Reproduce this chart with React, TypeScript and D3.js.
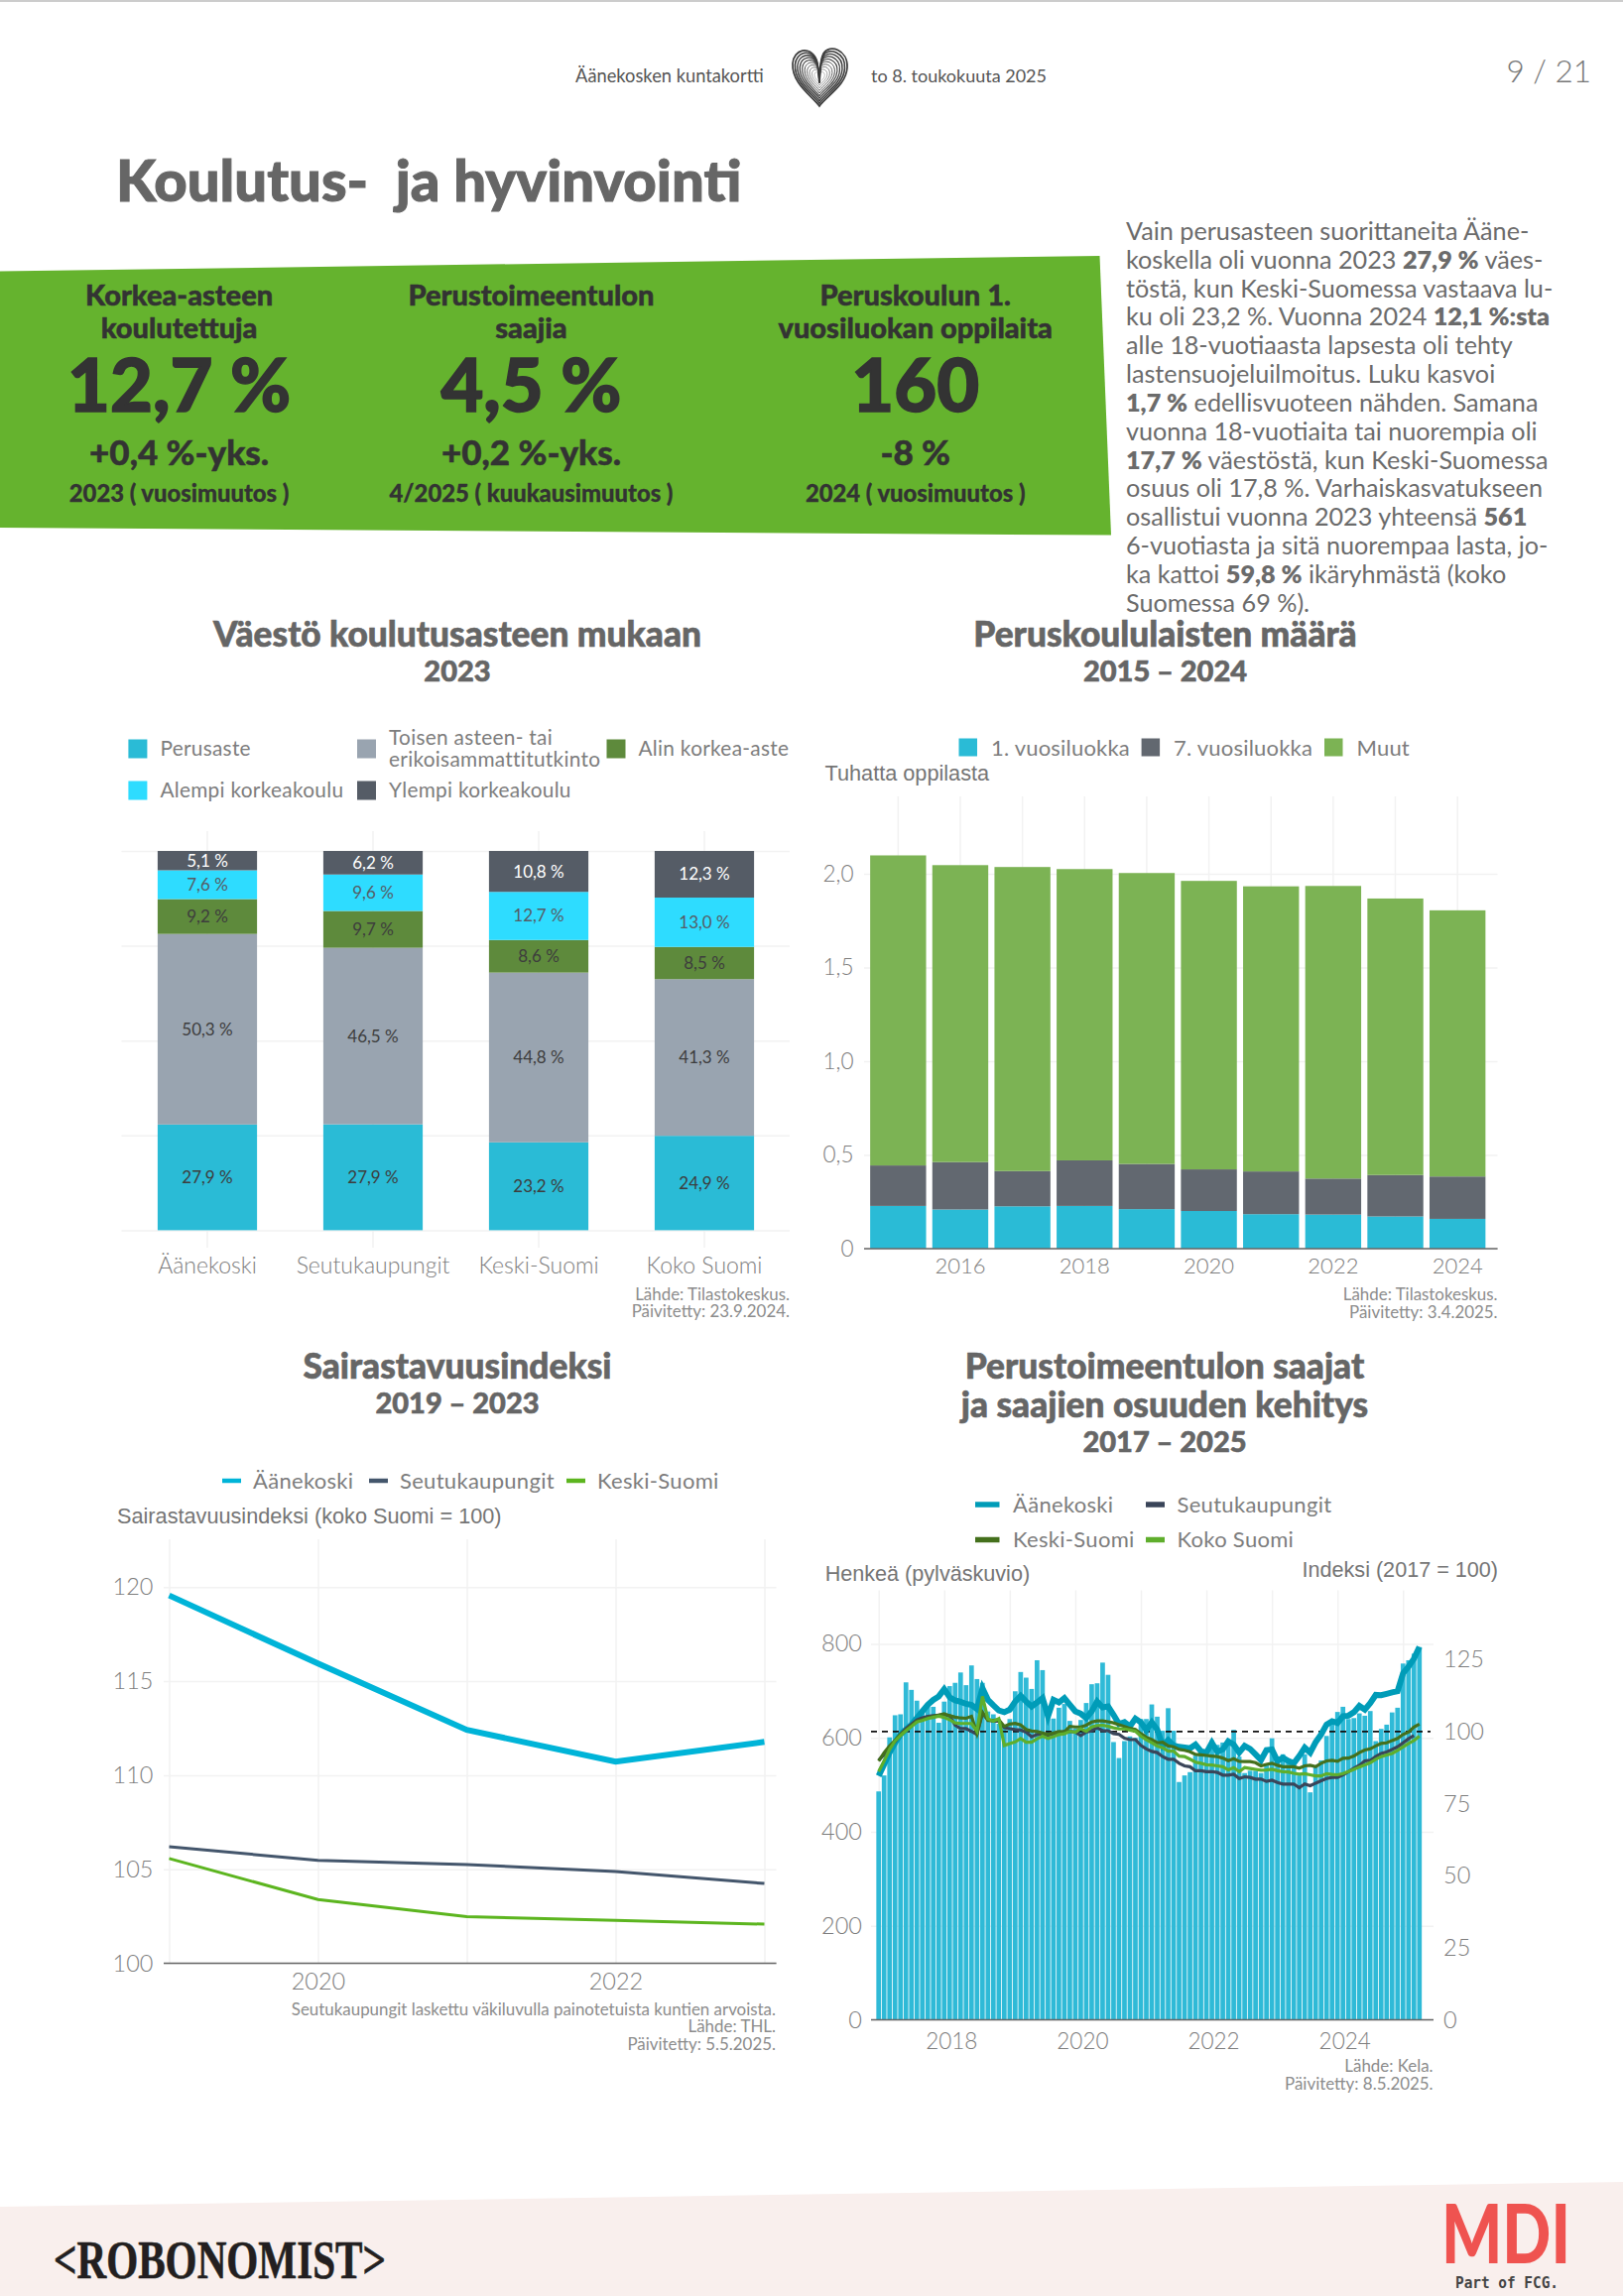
import * as d3 from 'd3';
import { useEffect, useRef } from 'react';

const PAGE_W = 1636;
const PAGE_H = 2315;

// Väestö koulutusasteen mukaan
const eduRegions = ['Äänekoski', 'Seutukaupungit', 'Keski-Suomi', 'Koko Suomi'];
const eduLevels = ['Perusaste', 'Toisen aste', 'Alin korkea-aste', 'Alempi korkeakoulu', 'Ylempi korkeakoulu'];
const eduPerusaste = [27.9, 27.9, 23.2, 24.9];
const eduToinen = [50.3, 46.5, 44.8, 41.3];
const eduAlin = [9.2, 9.7, 8.6, 8.5];
const eduAlempi = [7.6, 9.6, 12.7, 13.0];
const eduYlempi = [5.1, 6.2, 10.8, 12.3];

// Peruskoululaisten määrä (tuhatta)
const schoolYears = [2015, 2016, 2017, 2018, 2019, 2020, 2021, 2022, 2023, 2024];
const grade1 = [0.228, 0.209, 0.226, 0.228, 0.211, 0.201, 0.184, 0.182, 0.172, 0.159];
const grade7 = [0.216, 0.253, 0.188, 0.243, 0.241, 0.222, 0.228, 0.192, 0.221, 0.226];
const gradeOther = [1.654, 1.584, 1.622, 1.554, 1.552, 1.539, 1.521, 1.561, 1.475, 1.42];

// Sairastavuusindeksi
const healthYears = [2019, 2020, 2021, 2022, 2023];
const healthAanekoski = [119.56, 115.94, 112.41, 110.72, 111.77];
const healthSeutu = [106.2, 105.47, 105.25, 104.88, 104.24];
const healthKeski = [105.57, 103.39, 102.48, 102.28, 102.08];

// Perustoimeentulon saajat, kuukausittain 1/2017 - 4/2025
const recipients = [
  486, 520, 601, 648, 650, 718, 702, 679, 660, 673, 666, 632,
  677, 710, 717, 739, 712, 754, 725, 717, 656, 650, 630, 625,
  640, 699, 740, 728, 704, 765, 744, 640, 641, 664, 672, 636,
  620, 638, 674, 714, 716, 760, 734, 591, 557, 593, 603, 600,
  640, 640, 671, 645, 615, 663, 615, 506, 520, 527, 562, 570,
  575, 595, 585, 590, 595, 617, 560, 525, 530, 530, 525, 545,
  599, 550, 565, 555, 545, 520, 565, 484, 540, 552, 604, 630,
  655, 666, 640, 642, 652, 647, 657, 593, 619, 628, 654, 664,
  758, 765, 779, 793,
];
const indexAanekoski = [
  84.6, 88.6, 92.7, 96.1, 99, 100.7, 102.4, 104.7, 107, 109.3, 111, 112.2,
  114.7, 111.9, 110.8, 110.3, 109.6, 109.2, 107.8, 115, 111, 109.1, 107.3, 106.7,
  107.6, 110.4, 112.4, 110.4, 108.7, 110.1, 111.6, 105.3, 111, 110.1, 111.6, 109.3,
  107, 106.2, 104.7, 107, 110.4, 108.4, 108.7, 105.8, 102.6, 103.3, 101.8, 104.5,
  103.2, 100.5, 103.2, 100.7, 95, 97, 95.2, 94.7, 94.5, 94.2, 95.5, 93.2,
  92.7, 96.1, 93, 93.8, 96.6, 95.5, 92.7, 95, 94, 92.1, 90.1, 93.6,
  93.8, 89.8, 90.9, 89.8, 89, 91.5, 94.4, 92.7, 96.3, 99, 102.4, 103.6,
  103, 105.3, 105.5, 106.7, 108.9, 107.6, 109.9, 112.7, 112.6, 113.1, 113.6, 114,
  120.2, 122.5, 125.3, 129.4,
];
const indexSeutu = [
  90, 92, 94.5, 96.5, 99, 101, 102.5, 104, 104.8, 105.3, 105.5, 105.7,
  105.8, 105.5, 102.2, 101, 101, 100.1, 99, 106.4, 104.1, 103.6, 103.6, 101.3,
  101, 100.7, 100.5, 99.8, 98.2, 99, 99.2, 98.7, 99.3, 99.5, 100, 100.1,
  99.8, 98.6, 99.8, 100.3, 101.3, 100.3, 100.3, 99.3, 99, 97.7, 97.2, 97.2,
  95.2, 94, 93.1, 92.7, 91.3, 90.4, 90.4, 89, 88.1, 87.8, 86.4, 86.4,
  86.1, 86.1, 85.8, 84.9, 84.9, 85.2, 83.7, 84.3, 84.1, 83.5, 83.5, 82.7,
  83.1, 82.3, 81.8, 81.8, 81.8, 80.5, 81.8, 81.2, 82.1, 82.9, 83.7, 84.1,
  84.1, 85, 86.1, 87.3, 88.3, 89.8, 90, 91.3, 92.4, 92.9, 93.8, 94.7,
  96.1, 97.5, 98.6,
];
const indexKeski = [
  89.8, 92.7, 95, 96.9, 99, 100.5, 102.1, 103.6, 104.1, 104.7, 105.3, 105.7,
  106.2, 105.5, 105, 104.7, 104.6, 105.3, 99.3, 106.7, 103.9, 103.9, 104.1, 101.8,
  102.6, 102.8, 102.3, 100.7, 100.2, 100, 99.5, 99, 99.5, 100, 99.9, 101.8,
  101.6, 101.6, 102.2, 103.3, 103.7, 103.7, 103.4, 103, 102.4, 101.8, 101.1, 100.7,
  99.3, 98, 97.2, 96.1, 96.3, 95, 94.7, 93.8, 93.5, 93, 92.1, 91.9,
  91.7, 91.5, 91.3, 90.8, 89.9, 90.6, 89.7, 89.6, 89.6, 89.2, 88.1, 88.6,
  89, 88.3, 87.8, 87.8, 87.8, 87.3, 88.1, 88.3, 87.8, 89, 89.8, 90,
  89.7, 90.7, 90.8, 91.5, 92.7, 93.6, 94, 95, 95.9, 96.1, 96.9, 97.6,
  99, 99.8, 101.6, 102.6,
];
const indexKoko = [
  86.1, 89.8, 93.8, 96.7, 98.6, 100.3, 101.8, 103.3, 103.8, 104.5, 104.9, 105.3,
  104.9, 104.1, 103, 102.8, 102.8, 102.8, 100.1, 112.2, 104.4, 103.6, 104.5, 95.2,
  95.8, 96.4, 97.6, 96.3, 96.3, 97.5, 98.4, 97.6, 98.2, 99, 99.2, 100.1,
  99.8, 101, 100.1, 101.6, 102.1, 102.2, 101.8, 101.3, 100.9, 100.9, 100.5, 100.1,
  98.4, 97.2, 96.1, 95, 94.4, 93.2, 93.2, 91.5, 91.3, 90.4, 89.4, 89,
  88.5, 88.4, 88.1, 87.8, 86.7, 87.5, 86.1, 87.5, 87.2, 86.9, 86.6, 86.7,
  86.9, 86.4, 86.1, 86, 85.5, 85.2, 85.4, 85, 84.6, 84.6, 85.4, 85.1,
  85, 85.4, 86.1, 86.9, 87.7, 88.4, 89.2, 90.4, 91.3, 91.9, 92.4, 93.5,
  94.7, 95.9, 96.9, 98.4,
];

// Tunnusluvut
const kpiTitles = [['Korkea-asteen', 'koulutettuja'], ['Perustoimeentulon', 'saajia'], ['Peruskoulun 1.', 'vuosiluokan oppilaita']];
const kpiValues = ['12,7 %', '4,5 %', '160'];
const kpiChanges = ['+0,4 %-yks.', '+0,2 %-yks.', '-8 %'];
const kpiPeriods = ['2023 ( vuosimuutos )', '4/2025 ( kuukausimuutos )', '2024 ( vuosimuutos )'];

// **...** = lihavoitu
const bodyLines = [
  'Vain perusasteen suorittaneita Ääne-',
  'koskella oli vuonna 2023 **27,9 %** väes-',
  'töstä, kun Keski-Suomessa vastaava lu-',
  'ku oli 23,2 %. Vuonna 2024 **12,1 %:sta**',
  'alle 18-vuotiaasta lapsesta oli tehty',
  'lastensuojeluilmoitus. Luku kasvoi',
  '**1,7 %** edellisvuoteen nähden. Samana',
  'vuonna 18-vuotiaita tai nuorempia oli',
  '**17,7 %** väestöstä, kun Keski-Suomessa',
  'osuus oli 17,8 %. Varhaiskasvatukseen',
  'osallistui vuonna 2023 yhteensä **561**',
  '6-vuotiasta ja sitä nuorempaa lasta, jo-',
  'ka kattoi **59,8 %** ikäryhmästä (koko',
  'Suomessa 69 %).',
];

const LATO = 'Lato, sans-serif';
const ARIAL = '"Liberation Sans", Arial, sans-serif';
const GREY = '#7d7d7d';
const TITLE = '#666666';
const GRID = '#f2f2f2';

type Sel = d3.Selection<any, unknown, null, undefined>;
type Opts = { size: number; anchor?: string; weight?: number; fill?: string; family?: string; heavy?: number };

function label(g: Sel, x: number, y: number, txt: string, o: Opts) {
  const t = g.append('text')
    .attr('x', x)
    .attr('y', y)
    .attr('dy', '0.35em')
    .attr('text-anchor', o.anchor || 'start')
    .style('font-family', o.family || LATO)
    .style('font-size', o.size + 'px')
    .style('font-weight', o.weight || 400)
    .attr('fill', o.fill || GREY)
    .text(txt);
  // Lato bold is lighter than the original face, thicken it a bit
  if (o.heavy) t.attr('stroke', o.fill || GREY).attr('stroke-width', o.heavy);
  return t;
}

function note(g: Sel, x: number, ys: number[], lines: string[]) {
  lines.forEach((l, i) => label(g, x, ys[i], l, { size: 16.9, anchor: 'end', fill: '#8c8c8c' }));
}

function styleAxis(a: Sel, size: number) {
  a.select('.domain').remove();
  a.selectAll('line').attr('stroke', GRID).attr('stroke-width', 1.5);
  a.selectAll('text').attr('fill', GREY).style('font-family', LATO).style('font-size', size + 'px').style('font-weight', 300);
}

function gridOnly(a: Sel) {
  a.select('.domain').remove();
  a.selectAll('line').attr('stroke', GRID).attr('stroke-width', 1.5);
  a.selectAll('text').remove();
}

function chartHead(g: Sel, x: number, y: number, lines: string[], sub: string) {
  lines.forEach((l, i) => label(g, x, y + i * 39, l, { size: 35.3, anchor: 'middle', weight: 900, fill: TITLE, heavy: 0.6 }));
  label(g, x, y + (lines.length - 1) * 39 + 37, sub, { size: 29, anchor: 'middle', weight: 900, fill: TITLE, heavy: 0.6 });
}

function drawPage(svg: Sel) {
  svg.append('rect').attr('width', PAGE_W).attr('height', PAGE_H).attr('fill', 'white');
  svg.append('rect').attr('width', PAGE_W).attr('height', 2).attr('fill', '#cccccc');

  label(svg, 580, 76.5, 'Äänekosken kuntakortti', { size: 18.3, fill: '#555' });
  label(svg, 878, 76.5, 'to 8. toukokuuta 2025', { size: 18, fill: '#555' });
  label(svg, 1604, 72, '9 / 21', { size: 31.5, anchor: 'end', fill: '#777', weight: 300 });

  // sormenjälkisydän
  const heart = svg.append('g').attr('transform', 'translate(826,78)').attr('fill', 'none').attr('stroke', '#3d3d3d');
  d3.range(1, 0.1, -0.09).forEach((s) => {
    heart.append('path')
      .attr('d', 'M0,29 C-8,18 -28,6 -27,-14 C-26,-28 -10,-33 -3,-18 C-1,-12 -1,-4 0,6 C1,-6 0,-16 4,-24 C10,-34 29,-28 28,-10 C27,8 8,18 0,29 Z')
      .attr('transform', `scale(${s})`)
      .attr('stroke-width', 1.7);
  });

  label(svg, 117, 183, 'Koulutus-  ja hyvinvointi', { size: 58, weight: 900, fill: '#666', heavy: 1 }).style('white-space', 'pre');

  svg.append('polygon').attr('points', '0,273.5 1108.5,258 1120,539.6 0,532').attr('fill', '#65b32e');
  const kpiX = [180.6, 535.5, 922.7];
  kpiX.forEach((x, i) => {
    kpiTitles[i].forEach((t, j) => label(svg, x, 298 + j * 33, t, { size: 29, anchor: 'middle', weight: 900, fill: '#333', heavy: 0.5 }));
    label(svg, x, 389, kpiValues[i], { size: 74, anchor: 'middle', weight: 900, fill: '#333', heavy: 1.5 });
    label(svg, x, 457, kpiChanges[i], { size: 35, anchor: 'middle', weight: 900, fill: '#333', heavy: 0.5 });
    label(svg, x, 498, kpiPeriods[i], { size: 23.8, anchor: 'middle', weight: 900, fill: '#333', heavy: 0.3 });
  });

  bodyLines.forEach((line, i) => {
    const t = label(svg, 1135, 233 + i * 28.85, '', { size: 25.2, fill: '#6b6b6b' });
    line.split('**').forEach((part, k) => {
      t.append('tspan').style('font-weight', k % 2 ? 800 : 400).text(part);
    });
  });

  // alapalkki
  svg.append('polygon').attr('points', `0,2225 ${PAGE_W},2200 ${PAGE_W},${PAGE_H} 0,${PAGE_H}`).attr('fill', '#f9efed');
  label(svg, 54, 2278, '<ROBONOMIST>', { size: 54, weight: 700, fill: '#231f20', family: '"Liberation Serif", serif', heavy: 0.6 })
    .attr('textLength', 335).attr('lengthAdjust', 'spacingAndGlyphs');
  label(svg, 1453, 2254, 'MDI', { size: 81, weight: 900, fill: '#ef5350', family: LATO })
    .attr('textLength', 130).attr('lengthAdjust', 'spacingAndGlyphs');
  label(svg, 1467, 2302, 'Part of FCG.', { size: 15, weight: 700, fill: '#444', family: '"DejaVu Sans Mono", monospace' })
    .attr('textLength', 104).attr('lengthAdjust', 'spacingAndGlyphs');
}

function drawEducation(svg: Sel) {
  const g = svg.append('g');
  chartHead(g, 461, 640, ['Väestö koulutusasteen mukaan'], '2023');

  const colors = ['#2abbd6', '#99a4b0', '#5e8a3c', '#2edcff', '#555c66'];
  const textColors = ['#3d3d3d', '#3d3d3d', '#3d3d3d', '#555c66', '#fff'];
  const legend = [
    { x: 129.4, y: 755, lines: [eduLevels[0]] },
    { x: 360, y: 755, lines: ['Toisen asteen- tai', 'erikoisammattitutkinto'] },
    { x: 611.5, y: 755, lines: [eduLevels[2]] },
    { x: 129.4, y: 797, lines: [eduLevels[3]] },
    { x: 360, y: 797, lines: [eduLevels[4]] },
  ];
  legend.forEach((l, i) => {
    g.append('rect').attr('x', l.x).attr('y', l.y - 9.5).attr('width', 19).attr('height', 19).attr('fill', colors[i]);
    l.lines.forEach((t, j) => {
      const y = l.lines.length > 1 ? l.y - 11 + j * 22 : l.y;
      label(g, l.x + 32, y, t, { size: 20.8 }).style('letter-spacing', '0.3px');
    });
  });

  const x = d3.scaleBand().domain(eduRegions).range([125.5, 793.5]).paddingInner(0.4).paddingOuter(0.2);
  const y = d3.scaleLinear().domain([0, 100]).range([1240.4, 858]);

  const xAxis = g.append('g').attr('transform', 'translate(0,838)')
    .call(d3.axisBottom(x).tickSize(420).tickPadding(6));
  styleAxis(xAxis, 23);
  xAxis.selectAll('text').attr('y', 420 + 10);
  const yAxis = g.append('g').attr('transform', 'translate(122.5,0)')
    .call(d3.axisRight(y).tickValues([0, 25, 50, 75, 100]).tickSize(673.5));
  gridOnly(yAxis);

  const rows = eduRegions.map((r, i) => ({
    region: r,
    a: eduPerusaste[i], b: eduToinen[i], c: eduAlin[i], d: eduAlempi[i], e: eduYlempi[i],
  }));
  const keys = ['a', 'b', 'c', 'd', 'e'];
  const series = d3.stack<any>().keys(keys).offset(d3.stackOffsetExpand)(rows);
  series.forEach((s, i) => {
    g.selectAll(null).data(s).enter().append('rect')
      .attr('x', (d: any) => x(d.data.region)!)
      .attr('width', x.bandwidth())
      .attr('y', (d: any) => y(d[1] * 100))
      .attr('height', (d: any) => y(d[0] * 100) - y(d[1] * 100))
      .attr('fill', colors[i]);
    s.forEach((d: any) => {
      const val: number = d.data[keys[i]];
      label(g, x(d.data.region)! + x.bandwidth() / 2, y(((d[0] + d[1]) / 2) * 100), `${val.toFixed(1).replace('.', ',')} %`,
        { size: 17, anchor: 'middle', fill: textColors[i] });
    });
  });

  note(g, 796, [1305, 1322.5], ['Lähde: Tilastokeskus.', 'Päivitetty: 23.9.2024.']);
}

function drawPupils(svg: Sel) {
  const g = svg.append('g');
  chartHead(g, 1174.5, 640, ['Peruskoululaisten määrä'], '2015 – 2024');

  const colors = ['#2abbd6', '#626870', '#7cb354'];
  const names = ['1. vuosiluokka', '7. vuosiluokka', 'Muut'];
  const lx = [966.5, 1150.6, 1335];
  names.forEach((n, i) => {
    g.append('rect').attr('x', lx[i]).attr('y', 744.5).attr('width', 18.5).attr('height', 18).attr('fill', colors[i]);
    label(g, lx[i] + 32.5, 754, n, { size: 22 }).style('letter-spacing', '0.2px');
  });
  label(g, 831.5, 779, 'Tuhatta oppilasta', { size: 21.7, family: ARIAL, fill: '#757575' });

  const x = d3.scaleBand<number>().domain(schoolYears).range([874, 1500.5]).paddingInner(0.1).paddingOuter(0.05);
  const y = d3.scaleLinear().domain([0, 2]).range([1259, 881]);

  const vGrid = g.append('g').attr('transform', 'translate(0,803)')
    .call(d3.axisBottom(x).tickSize(456));
  gridOnly(vGrid);
  const yAxis = g.append('g').attr('transform', 'translate(871,0)')
    .call(d3.axisRight(y).tickValues([0, 0.5, 1, 1.5, 2]).tickSize(638.5)
      .tickFormat((d) => (d === 0 ? '0' : (d as number).toFixed(1).replace('.', ','))));
  styleAxis(yAxis, 22.5);
  yAxis.selectAll('text').attr('x', -10.5).attr('text-anchor', 'end');

  const rows = schoolYears.map((yr, i) => ({ yr, a: grade1[i], b: grade7[i], c: gradeOther[i] }));
  const series = d3.stack<any>().keys(['a', 'b', 'c'])(rows);
  series.forEach((s, i) => {
    g.selectAll(null).data(s).enter().append('rect')
      .attr('x', (d: any) => x(d.data.yr)!)
      .attr('width', x.bandwidth())
      .attr('y', (d: any) => y(d[1]))
      .attr('height', (d: any) => y(d[0]) - y(d[1]))
      .attr('fill', colors[i]);
  });

  const base = g.append('g').attr('transform', 'translate(0,1259)')
    .call(d3.axisBottom(x).tickValues(schoolYears.filter((v) => v % 2 === 0)).tickSize(0).tickPadding(9.5).tickFormat(d3.format('d')));
  base.selectAll('text').attr('fill', GREY).style('font-family', LATO).style('font-size', '22px').style('font-weight', 300);
  base.select('.domain').remove();
  g.append('line').attr('x1', 871).attr('x2', 1509.6).attr('y1', 1259).attr('y2', 1259).attr('stroke', '#666').attr('stroke-width', 1.5);

  note(g, 1509.6, [1305, 1323], ['Lähde: Tilastokeskus.', 'Päivitetty: 3.4.2025.']);
}

function drawHealth(svg: Sel) {
  const g = svg.append('g');
  chartHead(g, 461, 1378, ['Sairastavuusindeksi'], '2019 – 2023');

  const colors = ['#00b4d8', '#44566c', '#5cb51f'];
  const widths = [6, 3, 3];
  const names = ['Äänekoski', 'Seutukaupungit', 'Keski-Suomi'];
  const lx = [224, 372, 571];
  names.forEach((n, i) => {
    g.append('line').attr('x1', lx[i]).attr('x2', lx[i] + 19).attr('y1', 1493).attr('y2', 1493)
      .attr('stroke', colors[i]).attr('stroke-width', 4.5);
    label(g, lx[i] + 31, 1493, n, { size: 22 }).style('letter-spacing', '0.3px');
  });
  label(g, 118, 1528.5, 'Sairastavuusindeksi (koko Suomi = 100)', { size: 21.7, family: ARIAL, fill: '#757575' });

  const x = d3.scaleLinear().domain([2019, 2023]).range([170.5, 770.5]);
  const y = d3.scaleLinear().domain([100, 120]).range([1979.5, 1600.3]);

  const vGrid = g.append('g').attr('transform', 'translate(0,1552)')
    .call(d3.axisBottom(x).tickValues(healthYears).tickSize(427));
  gridOnly(vGrid);
  const yAxis = g.append('g').attr('transform', 'translate(165,0)')
    .call(d3.axisRight(y).tickValues([100, 105, 110, 115, 120]).tickSize(617.5));
  styleAxis(yAxis, 23.5);
  yAxis.selectAll('text').attr('x', -10.5).attr('text-anchor', 'end');

  const base = g.append('g').attr('transform', 'translate(0,1979.5)')
    .call(d3.axisBottom(x).tickValues([2020, 2022]).tickSize(0).tickPadding(9.5).tickFormat(d3.format('d')));
  base.selectAll('text').attr('fill', GREY).style('font-family', LATO).style('font-size', '23.5px').style('font-weight', 300);
  base.select('.domain').remove();
  g.append('line').attr('x1', 165).attr('x2', 782.6).attr('y1', 1979.5).attr('y2', 1979.5).attr('stroke', '#666').attr('stroke-width', 1.5);

  const line = d3.line<number>().x((_, i) => x(healthYears[i])).y((d) => y(d));
  [healthKeski, healthSeutu, healthAanekoski].forEach((s, k) => {
    const i = 2 - k;
    g.append('path').attr('d', line(s)).attr('fill', 'none').attr('stroke', colors[i]).attr('stroke-width', widths[i]);
  });

  note(g, 782, [2026, 2043.5, 2061.5], ['Seutukaupungit laskettu väkiluvulla painotetuista kuntien arvoista.', 'Lähde: THL.', 'Päivitetty: 5.5.2025.']);
}

function drawRecipients(svg: Sel) {
  const g = svg.append('g');
  chartHead(g, 1174, 1378, ['Perustoimeentulon saajat', 'ja saajien osuuden kehitys'], '2017 – 2025');

  const colors = ['#009cb8', '#3a4559', '#44701c', '#5fae2c'];
  const widths = [6, 3.2, 3.2, 3.2];
  const names = ['Äänekoski', 'Seutukaupungit', 'Keski-Suomi', 'Koko Suomi'];
  const lx = [983, 1155, 983, 1155];
  const ly = [1517, 1517, 1552.5, 1552.5];
  names.forEach((n, i) => {
    g.append('line').attr('x1', lx[i]).attr('x2', lx[i] + (i % 2 ? 19 : 24.5)).attr('y1', ly[i]).attr('y2', ly[i])
      .attr('stroke', colors[i]).attr('stroke-width', 5.5);
    label(g, lx[i] + (i % 2 ? 31.5 : 38), ly[i], n, { size: 22 }).style('letter-spacing', '0.3px');
  });
  label(g, 831.7, 1586, 'Henkeä (pylväskuvio)', { size: 21.6, family: ARIAL, fill: '#757575' });
  label(g, 1510, 1582, 'Indeksi (2017 = 100)', { size: 21.6, anchor: 'end', family: ARIAL, fill: '#757575' });

  const x = d3.scaleLinear().domain([2017, 2017 + 99 / 12]).range([885.7, 1430.8]);
  const month = (i: number) => 2017 + i / 12;
  const y = d3.scaleLinear().domain([0, 800]).range([2036.6, 1657.4]);
  const yIdx = d3.scaleLinear().domain([0, 125]).range([2036.6, 1673.2]);

  const vGrid = g.append('g').attr('transform', 'translate(0,1603.5)')
    .call(d3.axisBottom(x).tickValues(d3.range(2017, 2026)).tickSize(433));
  gridOnly(vGrid);
  const yAxis = g.append('g').attr('transform', 'translate(878,0)')
    .call(d3.axisRight(y).tickValues([0, 200, 400, 600, 800]).tickSize(567));
  styleAxis(yAxis, 23.5);
  yAxis.selectAll('text').attr('x', -9).attr('text-anchor', 'end');

  const rightAxis = g.append('g').attr('transform', 'translate(1445,0)')
    .call(d3.axisRight(yIdx).tickValues([0, 25, 50, 75, 100, 125]).tickSize(0).tickPadding(10));
  styleAxis(rightAxis, 23.5);

  const barW = 4.7;
  g.selectAll(null).data(recipients).enter().append('rect')
    .attr('x', (_, i) => x(month(i)) - barW / 2)
    .attr('width', barW)
    .attr('y', (d) => y(d))
    .attr('height', (d) => y(0) - y(d))
    .attr('fill', '#2fbad7');

  g.append('line').attr('x1', 878).attr('x2', 1442).attr('y1', yIdx(100)).attr('y2', yIdx(100))
    .attr('stroke', '#111').attr('stroke-width', 1.6).attr('stroke-dasharray', '6 5');

  const line = d3.line<number>().x((_, i) => x(month(i))).y((d) => yIdx(d));
  [indexAanekoski, indexSeutu, indexKeski, indexKoko].forEach((s, i) => {
    g.append('path').attr('d', line(s)).attr('fill', 'none').attr('stroke', colors[i]).attr('stroke-width', widths[i]);
  });

  const base = g.append('g').attr('transform', 'translate(7,2036.6)')
    .call(d3.axisBottom(x).tickValues([2018, 2020, 2022, 2024]).tickSize(0).tickPadding(13.5).tickFormat(d3.format('d')));
  base.selectAll('text').attr('fill', GREY).style('font-family', LATO).style('font-size', '22.5px').style('font-weight', 300);
  base.select('.domain').remove();
  g.append('line').attr('x1', 878).attr('x2', 1445).attr('y1', 2036.6).attr('y2', 2036.6).attr('stroke', '#666').attr('stroke-width', 1.5);

  note(g, 1444.6, [2083, 2101], ['Lähde: Kela.', 'Päivitetty: 8.5.2025.']);
}

export default function App() {
  const svgRef = useRef<SVGSVGElement>(null);

  useEffect(() => {
    const svg = d3.select(svgRef.current) as unknown as Sel;
    svg.selectAll('*').remove();
    drawPage(svg);
    drawEducation(svg);
    drawPupils(svg);
    drawHealth(svg);
    drawRecipients(svg);
  }, []);

  return (
    <svg
      ref={svgRef}
      width={PAGE_W}
      height={PAGE_H}
      style={{ position: 'absolute', left: 0, top: 0, display: 'block' }}
    />
  );
}
